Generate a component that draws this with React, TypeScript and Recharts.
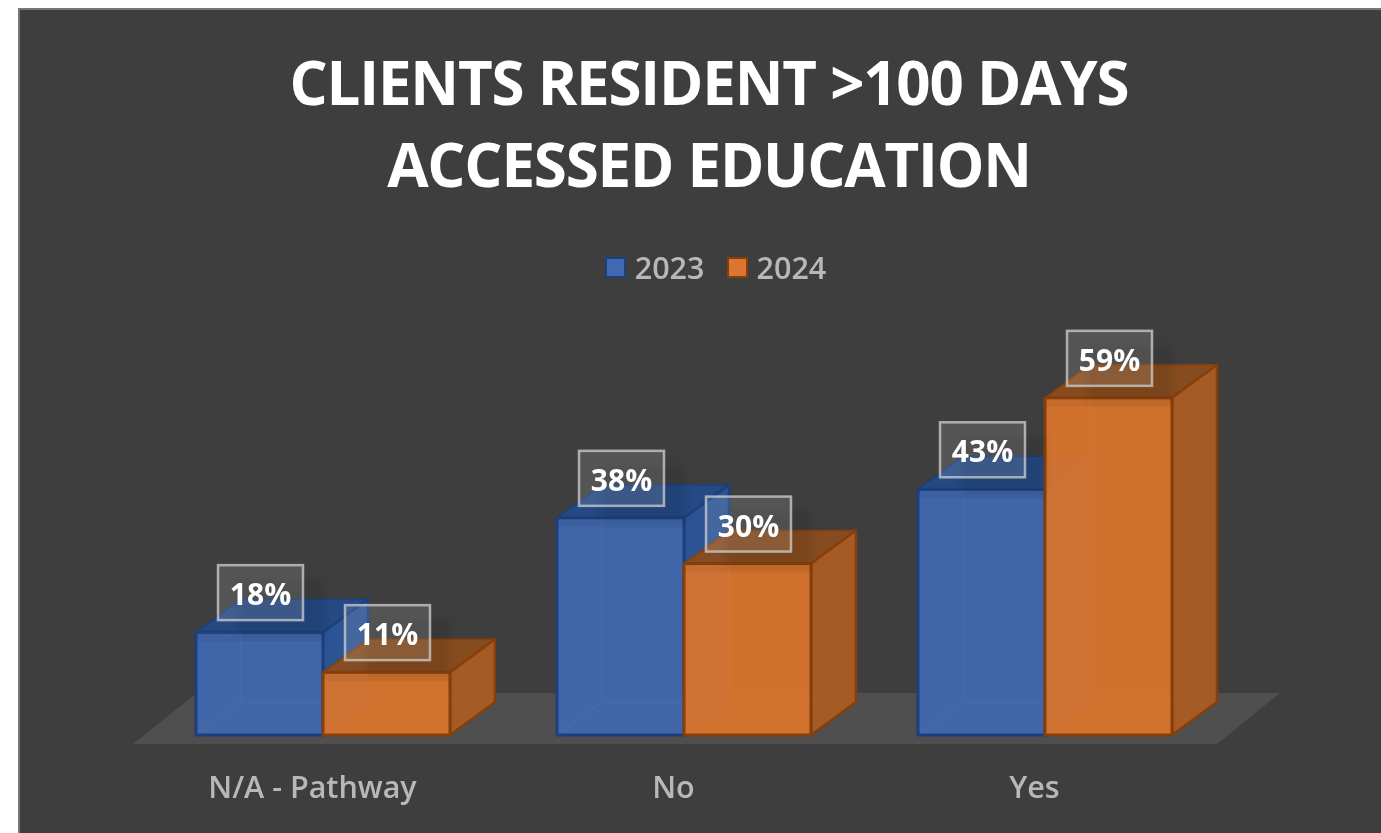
import React from "react";
import { BarChart, Bar, XAxis, YAxis, Legend, LabelList, Customized } from "recharts";

const categories = ["N/A - Pathway", "No", "Yes"];
const values2023 = [18, 38, 43];
const values2024 = [11, 30, 59];
const titleLines = ["CLIENTS RESIDENT >100 DAYS", "ACCESSED EDUCATION"];

const rows = categories.map((name, i) => ({ name, y2023: values2023[i], y2024: values2024[i] }));

const FONT = "'Open Sans', 'Noto Sans', sans-serif";
const DEPTH_X = 45;
const DEPTH_Y = 33;
const BLUE = { front: "#4169b1", top: "#234a87", side: "#2c5393", edge: "#1d3f7c" };
const ORANGE = { front: "#dc752d", top: "#8a4d1f", side: "#a75b24", edge: "#853f0d" };

function box3d(colors: typeof BLUE) {
  return function Box(props: any) {
    const { x, y, width: w, height: h } = props;
    const b = y + h;
    const r = x + w;
    const dx = DEPTH_X;
    const dy = DEPTH_Y;
    return (
      <g strokeLinejoin="round">
        <path d={`M${x} ${y}L${x + dx} ${y - dy}L${r + dx} ${y - dy}L${r} ${y}Z`} fill={colors.top} fillOpacity={0.95} stroke={colors.edge} strokeWidth={1.5} />
        <path d={`M${r} ${y}L${r + dx} ${y - dy}L${r + dx} ${b - dy}L${r} ${b}Z`} fill={colors.side} stroke={colors.edge} strokeWidth={2.5} />
        <rect x={x} y={y} width={w} height={h} fill={colors.front} fillOpacity={0.93} stroke={colors.edge} strokeWidth={3} />
        <path d={`M${x + dx} ${y + 1}L${x + dx} ${b - dy}L${x + 1} ${b - 1}M${x + dx} ${b - dy}L${r} ${b - dy}`} fill="none" stroke="#ffffff" strokeOpacity={0.035} strokeWidth={1.5} />
        <rect x={x + 1} y={y + 1} width={w - 2} height={Math.min(h - 2, 8)} fill="#000" fillOpacity={0.05} />
      </g>
    );
  };
}

const BlueBox = box3d(BLUE);
const OrangeBox = box3d(ORANGE);

function ValueTag(props: any) {
  const { x, y, width, value } = props;
  const bw = 85;
  const bh = 55;
  const cx = x + width / 2 + 1;
  const top = y - 12 - bh;
  return (
    <g>
      <rect x={cx - bw / 2 + 20} y={top + 14} width={bw} height={bh} fill="#000" fillOpacity={0.09} style={{ filter: "blur(4px)" }} />
      <rect x={cx - bw / 2} y={top} width={bw} height={bh} fill="#ffffff" fillOpacity={0.12} stroke="#d0d0d0" strokeOpacity={0.75} strokeWidth={2.5} />
      <text x={cx} y={top + bh / 2 + 1} textAnchor="middle" dominantBaseline="central" fill="#fff" fontFamily={FONT} fontWeight={700} fontSize={30}>
        {`${value}%`}
      </text>
    </g>
  );
}

function CategoryTick(props: any) {
  const { x, y, payload } = props;
  return (
    <text x={x - 10} y={y} textAnchor="middle" dominantBaseline="central" fill="#b8b8b8" fontFamily={FONT} fontWeight={600} fontSize={30.5}>
      {payload.value}
    </text>
  );
}

function Floor() {
  return <polygon points="133,744 1217,744 1280,693 197,693" fill="#4f4f4f" />;
}

function LegendRow(props: any) {
  const items = props.payload || [];
  return (
    <div style={{ display: "flex", alignItems: "center", justifyContent: "center", height: 40 }}>
      {items.map((it: any, i: number) => (
        <div key={it.value} style={{ display: "flex", alignItems: "center", marginLeft: i ? 22 : 0 }}>
          <span style={{ width: 17, height: 17, background: it.color, border: `2px solid ${i ? ORANGE.edge : BLUE.edge}`, display: "inline-block", marginRight: 9 }} />
          <span style={{ color: "#b8b8b8", fontFamily: FONT, fontWeight: 600, fontSize: 30.5, lineHeight: "40px" }}>{it.value}</span>
        </div>
      ))}
    </div>
  );
}

export default function App() {
  return (
    <div style={{ position: "absolute", left: 0, top: 0, width: 1381, height: 833, background: "#fff", overflow: "hidden" }}>
      <div style={{ position: "absolute", left: 18, top: 8, width: 1363, height: 825, background: "#3e3e3e", borderLeft: "2px solid #777", borderTop: "2px solid #777", boxSizing: "border-box" }} />
      <div style={{ position: "absolute", left: 0, top: 0, width: 1381, height: 833, filter: "blur(0.7px)" }}>
        <div style={{ position: "absolute", left: 18, top: 41, width: 1382, textAlign: "center", color: "#fff", fontFamily: FONT, fontWeight: 700, fontSize: 60, lineHeight: "82px", letterSpacing: -1.2, whiteSpace: "nowrap" }}>
          {titleLines.map((t) => (
            <div key={t}>{t}</div>
          ))}
        </div>
        <div style={{ position: "absolute", left: 0, top: 0 }}>
          <BarChart width={1381} height={833} data={rows} margin={{ top: 295, right: 156, bottom: 0, left: 142 }} barCategoryGap={107} barGap={0} barSize={127}>
            <Customized component={Floor} />
            <XAxis dataKey="name" axisLine={false} tickLine={false} height={98} tickMargin={45} interval={0} tick={<CategoryTick />} />
            <YAxis hide domain={[0, 70]} />
            <Legend verticalAlign="top" align="left" wrapperStyle={{ left: 0, width: 1431, top: 247 }} content={<LegendRow />} />
            <Bar dataKey="y2023" name="2023" fill={BLUE.front} isAnimationActive={false} shape={<BlueBox />}>
              <LabelList dataKey="y2023" content={<ValueTag />} />
            </Bar>
            <Bar dataKey="y2024" name="2024" fill={ORANGE.front} isAnimationActive={false} shape={<OrangeBox />}>
              <LabelList dataKey="y2024" content={<ValueTag />} />
            </Bar>
          </BarChart>
        </div>
      </div>
    </div>
  );
}
